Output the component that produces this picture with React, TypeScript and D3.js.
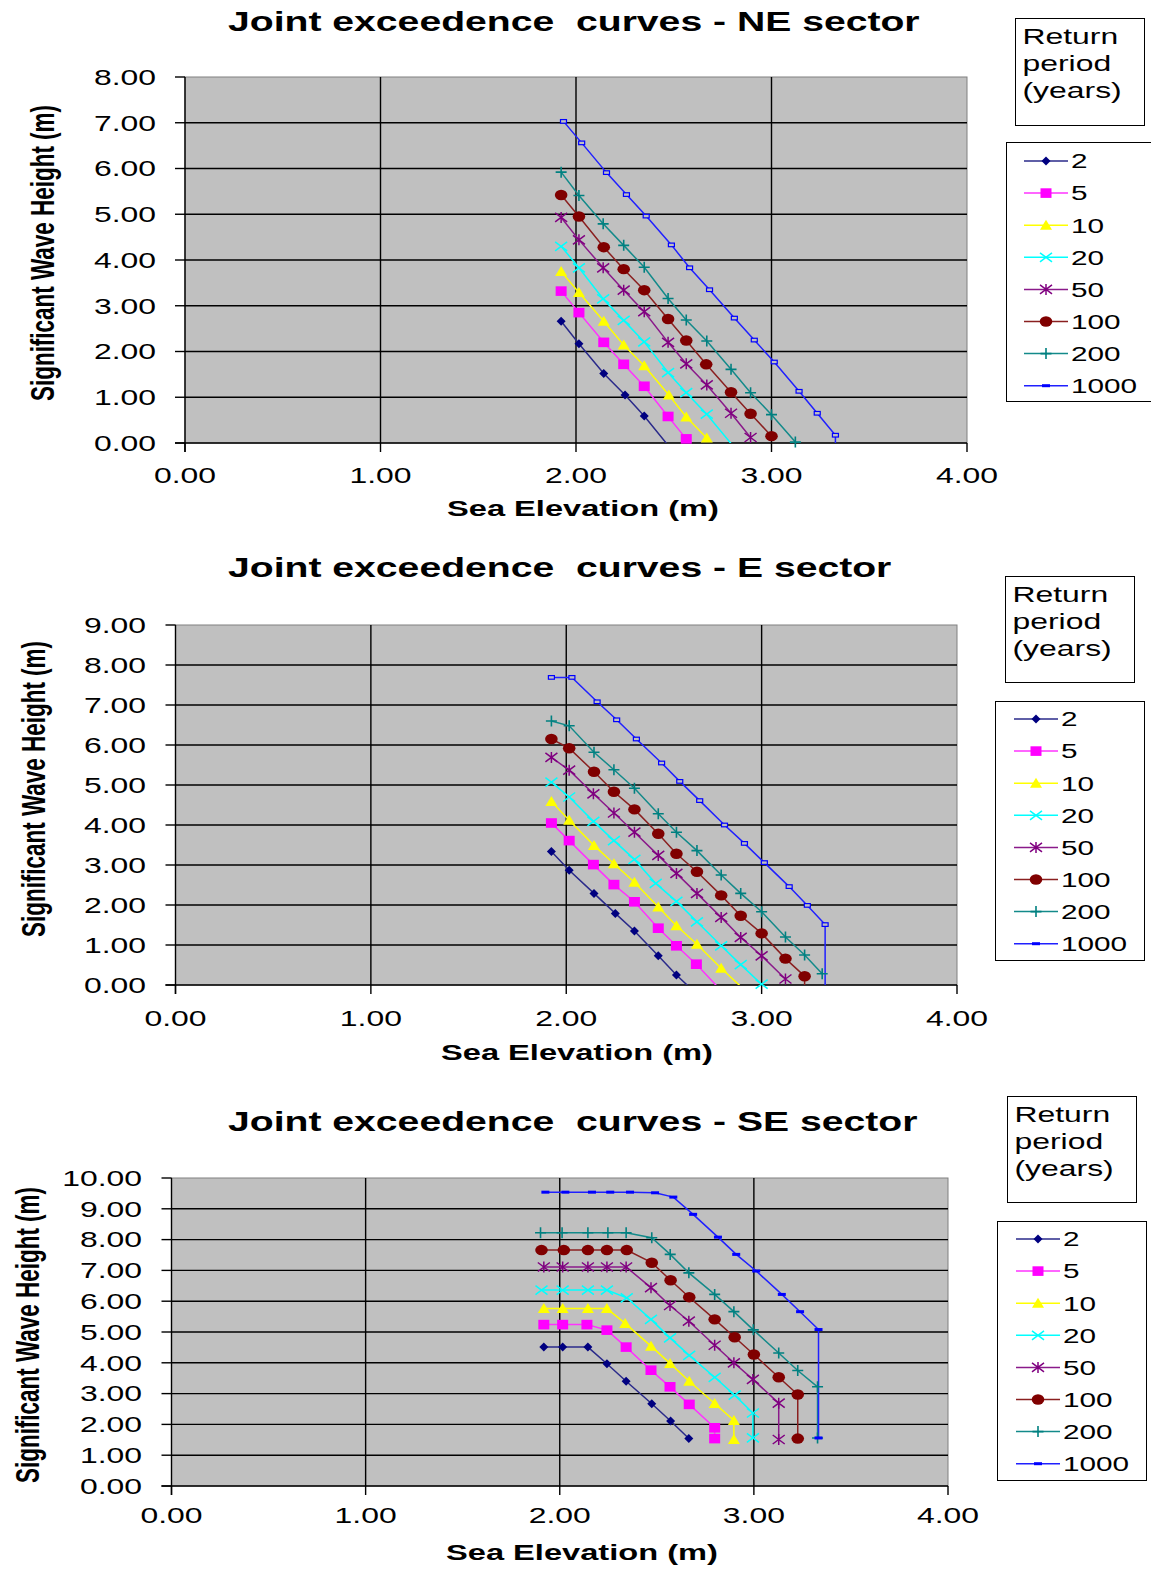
import React from 'react';
import * as d3 from 'd3';

type Pt = [number, number];

const RETURN_PERIODS = ['2', '5', '10', '20', '50', '100', '200', '1000'];
const X_TICKS = [0, 1, 2, 3, 4];
const NE_Y_TICKS = [0, 1, 2, 3, 4, 5, 6, 7, 8];
const E_Y_TICKS = [0, 1, 2, 3, 4, 5, 6, 7, 8, 9];
const SE_Y_TICKS = [0, 1, 2, 3, 4, 5, 6, 7, 8, 9, 10];

const TITLE_NE = 'Joint exceedence  curves - NE sector';
const TITLE_E = 'Joint exceedence  curves - E sector';
const TITLE_SE = 'Joint exceedence  curves - SE sector';
const X_TITLE = 'Sea Elevation (m)';
const Y_TITLE = 'Significant Wave Height (m)';
const LEGEND_TITLE = ['Return', 'period', '(years)'];

// ---------- NE sector ----------
const NE_2: Pt[] = [[1.924, 2.66], [2.015, 2.17], [2.142, 1.52], [2.251, 1.05], [2.349, 0.59], [2.48, -0.1]];
const NE_5: Pt[] = [[1.924, 3.32], [2.015, 2.85], [2.142, 2.2], [2.244, 1.72], [2.349, 1.24], [2.471, 0.58], [2.564, 0.09]];
const NE_10: Pt[] = [[1.924, 3.75], [2.015, 3.29], [2.142, 2.66], [2.244, 2.14], [2.349, 1.69], [2.475, 1.05], [2.564, 0.57], [2.669, 0.11]];
const NE_20: Pt[] = [[1.924, 4.3], [2.015, 3.83], [2.139, 3.15], [2.244, 2.68], [2.349, 2.21], [2.471, 1.54], [2.564, 1.1], [2.669, 0.63], [2.81, -0.1]];
const NE_50: Pt[] = [[1.924, 4.93], [2.015, 4.44], [2.139, 3.83], [2.244, 3.34], [2.349, 2.87], [2.471, 2.2], [2.564, 1.73], [2.669, 1.27], [2.793, 0.65], [2.893, 0.12]];
const NE_100: Pt[] = [[1.924, 5.42], [2.015, 4.95], [2.142, 4.28], [2.244, 3.8], [2.349, 3.34], [2.471, 2.71], [2.564, 2.24], [2.666, 1.72], [2.793, 1.11], [2.893, 0.64], [3.0, 0.15]];
const NE_200: Pt[] = [[1.924, 5.92], [2.015, 5.41], [2.139, 4.79], [2.244, 4.32], [2.349, 3.84], [2.471, 3.16], [2.564, 2.69], [2.669, 2.23], [2.793, 1.61], [2.893, 1.1], [3.0, 0.62], [3.122, 0.02]];
const NE_1000: Pt[] = [[1.936, 7.03], [2.029, 6.56], [2.156, 5.91], [2.258, 5.43], [2.359, 4.96], [2.488, 4.33], [2.581, 3.83], [2.683, 3.35], [2.81, 2.73], [2.912, 2.25], [3.014, 1.77], [3.141, 1.13], [3.234, 0.65], [3.327, 0.17], [3.327, -0.1]];

// ---------- E sector ----------
const E_2: Pt[] = [[1.924, 3.34], [2.015, 2.87], [2.142, 2.29], [2.251, 1.79], [2.349, 1.35], [2.471, 0.73], [2.564, 0.25], [2.64, -0.1]];
const E_5: Pt[] = [[1.924, 4.05], [2.015, 3.61], [2.139, 3.01], [2.244, 2.51], [2.349, 2.08], [2.471, 1.42], [2.564, 0.98], [2.666, 0.52], [2.785, -0.1]];
const E_10: Pt[] = [[1.924, 4.59], [2.015, 4.12], [2.142, 3.49], [2.244, 3.03], [2.349, 2.57], [2.471, 1.95], [2.564, 1.48], [2.669, 1.02], [2.793, 0.42], [2.907, -0.1]];
const E_20: Pt[] = [[1.924, 5.07], [2.015, 4.7], [2.139, 4.09], [2.244, 3.61], [2.349, 3.14], [2.458, 2.54], [2.564, 2.09], [2.669, 1.58], [2.793, 0.98], [2.893, 0.51], [3.0, 0.02]];
const E_50: Pt[] = [[1.924, 5.69], [2.015, 5.37], [2.139, 4.78], [2.244, 4.3], [2.349, 3.82], [2.471, 3.24], [2.564, 2.79], [2.669, 2.29], [2.793, 1.69], [2.893, 1.19], [3.0, 0.73], [3.122, 0.15]];
const E_100: Pt[] = [[1.924, 6.15], [2.015, 5.92], [2.142, 5.33], [2.244, 4.83], [2.349, 4.39], [2.471, 3.78], [2.564, 3.28], [2.669, 2.83], [2.793, 2.24], [2.893, 1.73], [3.0, 1.29], [3.122, 0.66], [3.22, 0.22], [3.22, -0.15]];
const E_200: Pt[] = [[1.924, 6.6], [2.015, 6.48], [2.142, 5.82], [2.244, 5.38], [2.349, 4.92], [2.471, 4.28], [2.564, 3.82], [2.669, 3.36], [2.793, 2.75], [2.893, 2.29], [3.0, 1.83], [3.122, 1.2], [3.22, 0.75], [3.31, 0.28]];
const E_1000: Pt[] = [[1.924, 7.69], [2.029, 7.69], [2.158, 7.08], [2.258, 6.63], [2.359, 6.15], [2.488, 5.55], [2.581, 5.09], [2.683, 4.61], [2.81, 4.0], [2.912, 3.54], [3.014, 3.06], [3.141, 2.46], [3.234, 1.99], [3.325, 1.51], [3.325, -0.15]];

// ---------- SE sector ----------
const SE_2: Pt[] = [[1.918, 4.51], [2.015, 4.51], [2.145, 4.51], [2.243, 3.97], [2.342, 3.4], [2.474, 2.67], [2.571, 2.11], [2.665, 1.54]];
const SE_5: Pt[] = [[1.918, 5.24], [2.015, 5.24], [2.14, 5.24], [2.243, 5.06], [2.342, 4.51], [2.47, 3.76], [2.568, 3.22], [2.667, 2.65], [2.798, 1.89], [2.798, 1.54]];
const SE_10: Pt[] = [[1.918, 5.76], [2.015, 5.76], [2.145, 5.76], [2.243, 5.76], [2.337, 5.28], [2.47, 4.54], [2.568, 3.98], [2.667, 3.4], [2.798, 2.68], [2.897, 2.13], [2.897, 1.51]];
const SE_20: Pt[] = [[1.906, 6.36], [2.015, 6.36], [2.145, 6.36], [2.243, 6.36], [2.345, 6.11], [2.47, 5.41], [2.568, 4.81], [2.667, 4.24], [2.798, 3.53], [2.901, 2.95], [2.995, 2.37], [2.995, 1.56]];
const SE_50: Pt[] = [[1.918, 7.11], [2.015, 7.11], [2.145, 7.11], [2.243, 7.11], [2.342, 7.11], [2.47, 6.44], [2.568, 5.86], [2.665, 5.35], [2.798, 4.57], [2.897, 4.0], [2.995, 3.46], [3.128, 2.69], [3.128, 1.51]];
const SE_100: Pt[] = [[1.906, 7.66], [2.021, 7.66], [2.145, 7.66], [2.243, 7.66], [2.345, 7.66], [2.474, 7.25], [2.571, 6.68], [2.667, 6.13], [2.798, 5.41], [2.901, 4.83], [3.0, 4.27], [3.128, 3.53], [3.226, 2.97], [3.226, 1.54]];
const SE_200: Pt[] = [[1.901, 8.22], [2.012, 8.22], [2.145, 8.22], [2.248, 8.22], [2.342, 8.22], [2.474, 8.06], [2.569, 7.52], [2.665, 6.92], [2.798, 6.22], [2.897, 5.66], [2.997, 5.07], [3.128, 4.32], [3.226, 3.75], [3.328, 3.22], [3.328, 1.56]];
const SE_1000: Pt[] = [[1.926, 9.54], [2.029, 9.54], [2.166, 9.54], [2.26, 9.54], [2.362, 9.54], [2.491, 9.52], [2.585, 9.38], [2.687, 8.82], [2.815, 8.08], [2.909, 7.52], [3.012, 6.98], [3.144, 6.22], [3.238, 5.66], [3.333, 5.08], [3.333, 1.56]];

const SERIES_STYLE = [
  { color: '#000080', line: '#2a2a8a', marker: 'diamond' },
  { color: '#FF00FF', line: '#FF33FF', marker: 'square' },
  { color: '#FFFF00', line: '#FFFF00', marker: 'triangle' },
  { color: '#00FFFF', line: '#00FFFF', marker: 'x' },
  { color: '#800080', line: '#8a1a8a', marker: 'star' },
  { color: '#800000', line: '#8a2020', marker: 'circle' },
  { color: '#008080', line: '#138a8a', marker: 'plus' },
  { color: '#0000FF', line: '#2020FF', marker: 'dash' },
];

const FONT = '"Liberation Sans", Arial, Helvetica, sans-serif';
const SX = 1.45;

function SText(props: { x: number; y: number; size: number; anchor?: string; bold?: boolean; rotate?: boolean; len?: number; children: any }) {
  const { x, y, size, anchor = 'start', bold, rotate, len, children } = props;
  const tf = rotate ? `translate(${x},${y}) scale(${SX},1) rotate(-90)` : `translate(${x},${y}) scale(${SX},1)`;
  const extra: any = {};
  if (len) {
    extra.textLength = len;
    extra.lengthAdjust = 'spacingAndGlyphs';
  }
  return (
    <text transform={tf} textAnchor={anchor} fontSize={size} fontWeight={bold ? 'bold' : 'normal'} fontFamily={FONT} fill="#000" style={{ whiteSpace: 'pre' }} {...extra}>
      {children}
    </text>
  );
}

function Marker({ type, cx, cy, color, solidDash }: { type: string; cx: number; cy: number; color: string; solidDash?: boolean }) {
  switch (type) {
    case 'diamond':
      return <path d={`M${cx},${cy - 4.5}L${cx + 4.5},${cy}L${cx},${cy + 4.5}L${cx - 4.5},${cy}Z`} fill={color} />;
    case 'square':
      return <rect x={cx - 5.5} y={cy - 4.8} width={11} height={9.6} fill={color} />;
    case 'triangle':
      return <path d={`M${cx},${cy - 5.5}L${cx + 6},${cy + 4.5}L${cx - 6},${cy + 4.5}Z`} fill={color} />;
    case 'x':
      return <path d={`M${cx - 6},${cy - 4.5}L${cx + 6},${cy + 4.5}M${cx - 6},${cy + 4.5}L${cx + 6},${cy - 4.5}`} stroke={color} strokeWidth={1.5} fill="none" />;
    case 'star':
      return <path d={`M${cx - 6},${cy - 4.5}L${cx + 6},${cy + 4.5}M${cx - 6},${cy + 4.5}L${cx + 6},${cy - 4.5}M${cx},${cy - 5.5}L${cx},${cy + 5.5}`} stroke={color} strokeWidth={1.5} fill="none" />;
    case 'circle':
      return <ellipse cx={cx} cy={cy} rx={6.3} ry={5.2} fill={color} />;
    case 'plus':
      return <path d={`M${cx - 5.5},${cy}L${cx + 5.5},${cy}M${cx},${cy - 5.5}L${cx},${cy + 5.5}`} stroke={color} strokeWidth={1.6} fill="none" />;
    case 'dash':
      return solidDash
        ? <rect x={cx - 4} y={cy - 1.5} width={8} height={3} fill={color} />
        : <rect x={cx - 3} y={cy - 1.8} width={6} height={3.6} fill="#C0C0C0" stroke={color} strokeWidth={1.2} />;
    default:
      return null;
  }
}

type ChartCfg = {
  id: string;
  title: string;
  series: Pt[][];
  yTicks: number[];
  yMax: number;
  plot: { l: number; r: number; t: number; b: number };
  titleX: number;
  titleY: number;
  yLabelRight: number;
  yTitleX: number;
  yTitleY: number;
  xTickY: number;
  xTitleX: number;
  xTitleY: number;
  legTitle: { x: number; y: number; w: number; h: number };
  leg: { x: number; y: number; w: number; h: number; firstY: number; step: number; lx1: number; lx2: number; tx: number };
  solidDash?: boolean;
};

const CHARTS: ChartCfg[] = [
  {
    id: 'ne', title: TITLE_NE, series: [NE_2, NE_5, NE_10, NE_20, NE_50, NE_100, NE_200, NE_1000],
    yTicks: NE_Y_TICKS, yMax: 8,
    plot: { l: 185, r: 967, t: 77, b: 443 },
    titleX: 228, titleY: 31, yLabelRight: 156, yTitleX: 42, yTitleY: 253,
    xTickY: 483, xTitleX: 447, xTitleY: 516,
    legTitle: { x: 1015.5, y: 18.5, w: 129, h: 107 },
    leg: { x: 1006.5, y: 142.5, w: 152, h: 259, firstY: 161, step: 32.1, lx1: 1024, lx2: 1068, tx: 1071 },
  },
  {
    id: 'e', title: TITLE_E, series: [E_2, E_5, E_10, E_20, E_50, E_100, E_200, E_1000],
    yTicks: E_Y_TICKS, yMax: 9,
    plot: { l: 175.5, r: 957, t: 625, b: 985 },
    titleX: 228, titleY: 577, yLabelRight: 146, yTitleX: 33, yTitleY: 789,
    xTickY: 1026, xTitleX: 441, xTitleY: 1060,
    legTitle: { x: 1005.5, y: 576.5, w: 129, h: 106 },
    leg: { x: 995.5, y: 701.5, w: 149, h: 259, firstY: 719, step: 32.1, lx1: 1014, lx2: 1058, tx: 1061 },
  },
  {
    id: 'se', title: TITLE_SE, series: [SE_2, SE_5, SE_10, SE_20, SE_50, SE_100, SE_200, SE_1000],
    yTicks: SE_Y_TICKS, yMax: 10,
    plot: { l: 171.5, r: 948, t: 1178, b: 1486 },
    titleX: 228, titleY: 1131, yLabelRight: 142, yTitleX: 27, yTitleY: 1335,
    xTickY: 1523, xTitleX: 446, xTitleY: 1560,
    legTitle: { x: 1007.5, y: 1096.5, w: 129, h: 106 },
    leg: { x: 997.5, y: 1221.5, w: 149, h: 259, firstY: 1239, step: 32.1, lx1: 1016, lx2: 1060, tx: 1063 },
    solidDash: true,
  },
];

function Chart({ cfg }: { cfg: ChartCfg }) {
  const { plot } = cfg;
  const x = d3.scaleLinear().domain([0, 4]).range([plot.l, plot.r]);
  const y = d3.scaleLinear().domain([0, cfg.yMax]).range([plot.b, plot.t]);
  const line = d3.line<Pt>().x((d) => x(d[0])).y((d) => y(d[1]));
  const clipId = `clip-${cfg.id}`;
  return (
    <g>
      <defs>
        <clipPath id={clipId}>
          <rect x={plot.l} y={plot.t} width={plot.r - plot.l} height={plot.b - plot.t} />
        </clipPath>
      </defs>
      <SText x={cfg.titleX} y={cfg.titleY} size={27} bold>{cfg.title}</SText>
      <rect x={plot.l} y={plot.t} width={plot.r - plot.l} height={plot.b - plot.t} fill="#C0C0C0" stroke="#808080" strokeWidth={1} />
      {cfg.yTicks.filter((t) => t > 0 && t < cfg.yMax).map((t) => (
        <line key={`hg${t}`} x1={plot.l} x2={plot.r} y1={y(t)} y2={y(t)} stroke="#000" strokeWidth={1.4} />
      ))}
      {X_TICKS.filter((t) => t > 0 && t < 4).map((t) => (
        <line key={`vg${t}`} x1={x(t)} x2={x(t)} y1={plot.t} y2={plot.b} stroke="#000" strokeWidth={1.4} />
      ))}
      <line x1={plot.l} x2={plot.l} y1={plot.t} y2={plot.b + 9} stroke="#000" strokeWidth={1.4} />
      <line x1={plot.l - 10} x2={plot.r} y1={plot.b} y2={plot.b} stroke="#000" strokeWidth={1.4} />
      {cfg.yTicks.map((t) => (
        <line key={`yt${t}`} x1={plot.l - 10} x2={plot.l} y1={y(t)} y2={y(t)} stroke="#000" strokeWidth={1.4} />
      ))}
      {X_TICKS.map((t) => (
        <line key={`xt${t}`} x1={x(t)} x2={x(t)} y1={plot.b} y2={plot.b + 9} stroke="#000" strokeWidth={1.4} />
      ))}
      {cfg.yTicks.map((t) => (
        <SText key={`yl${t}`} x={cfg.yLabelRight} y={y(t) + 7.8} size={22} anchor="end">{t.toFixed(2)}</SText>
      ))}
      {X_TICKS.map((t) => (
        <SText key={`xl${t}`} x={x(t)} y={cfg.xTickY} size={22} anchor="middle">{t.toFixed(2)}</SText>
      ))}
      <SText x={cfg.xTitleX} y={cfg.xTitleY} size={22.5} bold>{X_TITLE}</SText>
      <SText x={cfg.yTitleX + 12} y={cfg.yTitleY} size={23} bold rotate anchor="middle" len={296}>{Y_TITLE}</SText>
      <g clipPath={`url(#${clipId})`}>
        {cfg.series.map((s, i) => (
          <path key={`ln${i}`} d={line(s) || ''} fill="none" stroke={SERIES_STYLE[i].line} strokeWidth={1.5} />
        ))}
      </g>
      {cfg.series.map((s, i) => (
        <g key={`mk${i}`}>
          {s.filter((p) => p[1] >= 0).map((p, j) => (
            <Marker key={j} type={SERIES_STYLE[i].marker} cx={x(p[0])} cy={y(p[1])} color={SERIES_STYLE[i].color} solidDash={cfg.solidDash} />
          ))}
        </g>
      ))}
      <rect x={cfg.legTitle.x} y={cfg.legTitle.y} width={cfg.legTitle.w} height={cfg.legTitle.h} fill="#fff" stroke="#000" strokeWidth={1} />
      {LEGEND_TITLE.map((t, i) => (
        <SText key={`lt${i}`} x={cfg.legTitle.x + 7} y={cfg.legTitle.y + 25 + i * 27} size={22}>{t}</SText>
      ))}
      <rect x={cfg.leg.x} y={cfg.leg.y} width={cfg.leg.w} height={cfg.leg.h} fill="#fff" stroke="#000" strokeWidth={1} />
      {RETURN_PERIODS.map((rp, i) => {
        const ly = cfg.leg.firstY + i * cfg.leg.step;
        const mx = (cfg.leg.lx1 + cfg.leg.lx2) / 2;
        return (
          <g key={`lg${rp}`}>
            <line x1={cfg.leg.lx1} x2={cfg.leg.lx2} y1={ly} y2={ly} stroke={SERIES_STYLE[i].line} strokeWidth={1.5} />
            <Marker type={SERIES_STYLE[i].marker} cx={mx} cy={ly} color={SERIES_STYLE[i].color} solidDash />
            <SText x={cfg.leg.tx} y={ly + 7.3} size={20.5}>{rp}</SText>
          </g>
        );
      })}
    </g>
  );
}

export default function App() {
  return (
    <svg width={1151} height={1570} viewBox="0 0 1151 1570" style={{ position: 'absolute', left: 0, top: 0, display: 'block', background: '#fff' }}>
      <rect x={0} y={0} width={1151} height={1570} fill="#fff" />
      {CHARTS.map((c) => (
        <Chart key={c.id} cfg={c} />
      ))}
    </svg>
  );
}
